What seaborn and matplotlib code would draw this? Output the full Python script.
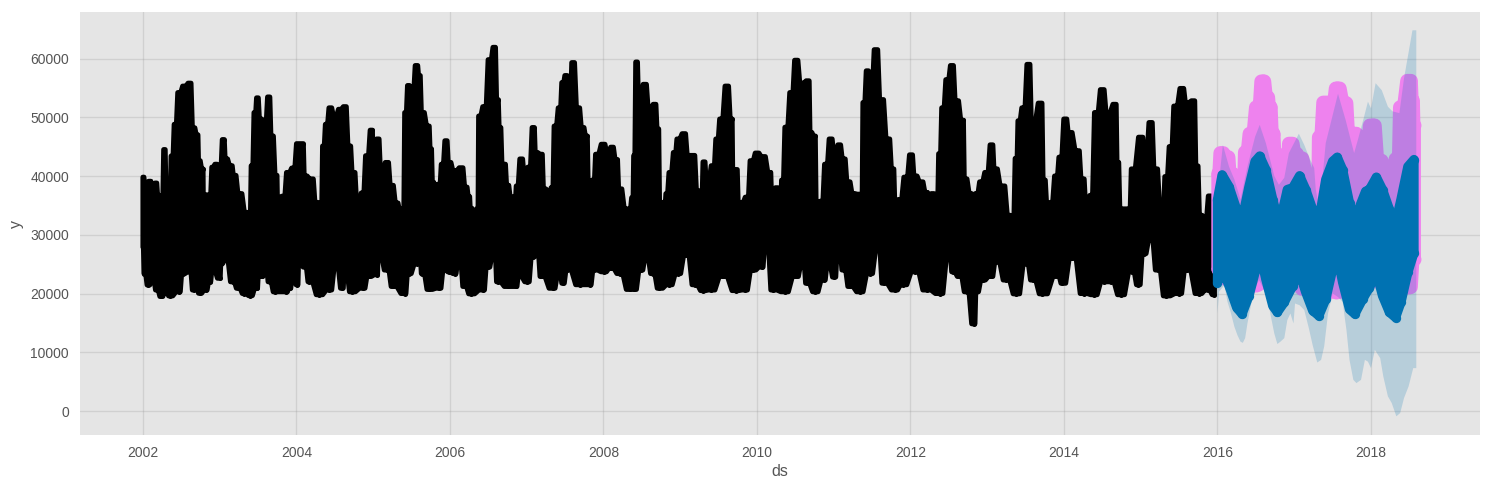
import numpy as np
import matplotlib
matplotlib.use("Agg")
import matplotlib.pyplot as plt
import seaborn as sns

hist_upper_t = [2002.00,2002.04,2002.09,2002.13,2002.17,2002.20,2002.25,2002.28,2002.31,2002.34,2002.38,2002.42,2002.47,2002.54,2002.61,2002.66,2002.71,2002.73,2002.78,2002.79,2002.82,2002.87,2002.91,2002.95,2003.00,2003.05,2003.08,2003.15,2003.19,2003.26,2003.35,2003.39,2003.42,2003.46,2003.49,2003.53,2003.59,2003.64,2003.68,2003.74,2003.76,2003.83,2003.89,2003.96,2004.02,2004.08,2004.11,2004.20,2004.26,2004.32,2004.35,2004.39,2004.44,2004.50,2004.57,2004.63,2004.69,2004.74,2004.81,2004.86,2004.92,2004.98,2005.01,2005.06,2005.11,2005.18,2005.24,2005.31,2005.35,2005.39,2005.42,2005.46,2005.50,2005.57,
2005.60,2005.64,2005.72,2005.75,2005.78,2005.81,2005.86,2005.90,2005.95,2005.99,2006.06,2006.15,2006.21,2006.25,2006.27,2006.32,2006.36,2006.38,2006.45,2006.52,2006.58,2006.62,2006.65,2006.69,2006.71,2006.75,2006.80,2006.85,2006.87,2006.93,2006.98,2007.03,2007.09,2007.12,2007.19,2007.23,2007.29,2007.33,2007.37,2007.43,2007.47,2007.51,2007.56,2007.60,2007.67,2007.73,2007.78,2007.81,2007.87,2007.91,2008.00,2008.06,2008.11,2008.17,2008.21,2008.30,2008.34,2008.38,2008.40,2008.43,2008.47,2008.54,2008.60,2008.67,2008.71,2008.74,2008.80,2008.82,2008.87,2008.93,2008.97,2009.05,2009.11,2009.17,2009.23,2009.27,2009.31,2009.35,2009.43,2009.48,2009.53,2009.61,2009.67,2009.69,2009.73,2009.77,2009.80,2009.87,2009.93,2010.00,2010.08,2010.17,2010.20,2010.26,2010.30,2010.33,2010.38,2010.45,2010.51,2010.58,2010.67,
2010.70,2010.75,2010.78,2010.84,2010.90,2010.96,2011.02,2011.07,2011.13,2011.19,2011.26,2011.32,2011.36,2011.39,2011.44,2011.48,2011.55,2011.62,2011.71,2011.77,2011.81,2011.86,2011.94,2012.01,2012.06,2012.14,2012.21,2012.23,2012.29,2012.34,2012.38,2012.42,2012.48,2012.54,2012.60,2012.68,2012.71,2012.79,2012.81,2012.86,2012.92,2012.99,2013.06,2013.10,2013.20,2013.29,2013.33,2013.38,2013.41,2013.47,2013.54,2013.59,2013.70,2013.74,2013.79,2013.83,2013.90,2013.95,2014.02,2014.07,2014.18,2014.24,2014.31,2014.35,2014.42,2014.50,2014.57,2014.67,2014.70,2014.74,2014.81,2014.85,2014.89,2015.01,2015.06,2015.13,2015.19,2015.28,2015.33,2015.39,2015.45,2015.54,2015.60,2015.69,2015.73,2015.78,2015.84,2015.90,2015.96]
hist_upper_y = [39800,37500,39100,37800,38800,36700,36300,44500,37000,34400,43400,48800,54200,55300,55800,48200,47000,42600,41200,35000,36800,36700,41500,42000,40700,46200,42900,41750,40100,37000,33800,32700,41750,50800,53300,49700,49000,53450,46800,40100,34400,36550,40600,41350,45500,45500,40000,39500,35500,34400,45100,48800,51600,50200,51350,51800,45100,40600,34400,37100,43450,47800,40000,46300,40800,42300,38400,35400,34400,34400,50800,55400,52800,58800,
57100,50800,48500,44600,38900,35500,38600,42000,46000,42300,40900,41400,38100,36500,34500,34000,34400,50200,51800,59800,61900,53000,48250,42000,42000,38400,36400,36500,38300,42900,40100,41500,48250,44000,43700,37800,37000,38000,48500,51600,55900,57100,52800,59300,51600,48250,46800,38400,39300,43700,45400,44000,44900,42800,37800,34400,34400,36300,43450,59400,52000,55600,51600,52200,48000,35500,35500,37000,40600,44000,46300,47200,43500,43500,37500,34800,42400,39000,41750,46300,49700,55300,49700,40600,41100,34400,35500,36400,42600,43900,43300,40600,36000,38000,33800,39300,48300,54200,59700,55800,56200,
47400,46800,35000,35700,42000,46300,43400,45300,42900,39000,37000,36900,34400,52500,57900,54200,61500,53000,46300,41200,34400,36000,39800,43600,40000,39000,37200,33800,37000,33800,43800,51600,56400,58800,52800,49500,39500,37000,32700,37000,39000,40600,45300,41200,38300,33300,31700,43000,49400,51600,59000,49000,52400,39300,35000,35500,40000,43200,49700,47400,44300,39500,33300,36700,50800,54700,50800,52200,42300,34400,34400,34400,41200,46600,43500,49100,41200,33300,39900,45000,51900,54900,52500,52800,41700,33300,33000,36600,36200]

hist_lower_t = [2002.00,2002.02,2002.07,2002.13,2002.18,2002.24,2002.30,2002.35,2002.47,2002.52,2002.61,2002.66,2002.69,2002.74,2002.82,2002.87,2002.91,2003.00,2003.02,2003.08,2003.17,2003.24,2003.32,2003.40,2003.48,2003.52,2003.55,2003.59,2003.65,2003.72,2003.87,2003.91,2003.96,2004.01,2004.04,2004.11,2004.17,2004.30,2004.43,2004.52,2004.60,2004.63,2004.72,2004.87,2004.94,2005.05,2005.07,2005.18,2005.26,2005.41,2005.46,2005.57,
2005.60,2005.64,2005.73,2005.86,2005.93,2005.99,2006.06,2006.12,2006.19,2006.27,2006.43,2006.49,2006.58,2006.62,2006.75,2006.86,2006.90,2007.01,2007.08,2007.14,2007.19,2007.34,2007.43,2007.47,2007.53,2007.69,2007.82,2007.88,2008.01,2008.10,2008.21,2008.34,2008.40,2008.49,2008.56,2008.64,2008.73,2008.86,2008.97,2009.08,2009.19,2009.30,2009.40,2009.56,2009.73,2009.84,2009.95,2010.06,2010.12,2010.21,2010.36,2010.51,2010.60,
2010.65,2010.76,2010.87,2010.93,2011.01,2011.06,2011.13,2011.21,2011.34,2011.47,2011.58,2011.65,2011.80,2011.90,2012.06,2012.21,2012.38,2012.51,2012.55,2012.64,2012.73,2012.83,2012.86,2012.94,2013.05,2013.12,2013.25,2013.38,2013.51,2013.59,2013.72,2013.92,2013.98,2014.11,2014.26,2014.39,2014.52,2014.61,2014.74,2014.89,2014.97,2015.04,2015.13,2015.22,2015.33,2015.50,2015.60,2015.76,2015.87,2015.96]
hist_lower_y = [27900,23400,21460,22300,20600,19500,20300,19600,20300,23400,23700,20600,23400,20050,20600,22000,24000,22600,25100,25700,22000,20900,20000,19650,20900,24500,22900,25100,22000,20300,20300,20900,24000,21500,27400,24500,22000,19800,20600,24500,20900,24000,20300,20900,22900,23200,26800,24000,21200,20000,23400,25100,
26800,23400,20700,20900,24000,23700,23400,25700,21200,19950,20600,24500,26800,22000,21200,21200,22900,22000,26250,26550,22900,20900,23400,21750,24000,21500,21500,24000,23700,24300,23400,20700,20700,24000,26000,23400,20900,21500,23400,26550,21500,20500,20600,22900,20500,20600,24000,24500,28500,20600,20300,22900,25100,
21750,20300,22300,24900,22800,27700,24000,21200,20300,23400,27400,21750,20600,21500,23700,20600,20000,26200,23700,22900,20300,14850,20300,22300,22900,25400,22300,19950,25100,22300,19950,22900,21750,26000,20000,19800,22000,22000,19800,23700,21500,26800,29100,24000,19600,20000,24000,20000,20600,19800]

# Test actuals (violet)
test_upper_t = [2016.01,2016.05,2016.13,2016.17,2016.25,2016.33,2016.37,2016.44,2016.53,2016.59,2016.65,2016.68,2016.72,2016.75,2016.78,2016.87,2016.96,2017.02,2017.06,2017.20,2017.26,2017.30,2017.33,2017.40,2017.50,2017.56,2017.66,2017.72,2017.79,2017.85,2017.91,2018.02,2018.11,2018.20,2018.26,2018.35,2018.39,2018.51,2018.54,2018.56]
test_upper_y = [40400,43900,43200,40400,35000,36400,44050,47200,51700,56100,53400,51700,47200,44000,38700,37000,45500,43800,43000,40100,36400,33000,46600,52500,52500,54900,52400,47200,47200,39800,42100,48600,42600,37600,39800,42900,51700,56200,52800,48600]
test_lower_t = [2016.01,2016.15,2016.37,2016.50,2016.61,2016.74,2016.98,2017.15,2017.37,2017.54,2017.72,2017.98,2018.11,2018.33,2018.50,2018.56]
test_lower_y = [24200,22500,20800,21500,22500,20800,22000,20800,20300,20300,20300,22000,22100,20300,21100,25800]

# Uncertainty band
band_upper_t = [2016.00,2016.07,2016.15,2016.22,2016.30,2016.39,2016.49,2016.55,2016.63,2016.74,2016.80,2016.87,2016.93,2017.06,2017.13,2017.20,2017.26,2017.28,2017.33,2017.41,2017.57,2017.67,2017.78,2017.83,2017.91,2017.96,2018.00,2018.06,2018.14,2018.22,2018.28,2018.37,2018.43,2018.54,2018.59]
band_upper_y = [36550,45300,41600,39400,36000,41600,46700,48700,45600,40000,38500,39700,43900,47200,45300,43000,41350,37700,34300,45600,54000,49500,43900,46200,50100,52650,51500,55800,54600,51800,51000,50700,56600,64800,64800]
band_lower_t = [2016.00,2016.02,2016.09,2016.13,2016.17,2016.22,2016.26,2016.30,2016.33,2016.36,2016.39,2016.44,2016.48,2016.54,2016.59,2016.65,2016.70,2016.74,2016.78,2016.82,2016.87,2016.91,2016.95,2016.99,2017.01,2017.07,2017.13,2017.19,2017.24,2017.30,2017.35,2017.39,2017.44,2017.50,2017.57,2017.63,2017.68,2017.72,2017.77,2017.81,2017.87,2017.92,2017.96,2018.00,2018.05,2018.12,2018.16,2018.22,2018.27,2018.33,2018.38,2018.43,2018.49,2018.55,2018.59]
band_lower_y = [16600,20300,21400,18600,16900,14350,12900,11800,11600,12400,14900,18300,20600,22300,21100,19150,15800,13200,11400,11800,12400,15500,16600,14900,18300,18000,17200,14100,11200,8250,8700,11000,16600,20000,19400,18600,13800,8700,5300,4750,5300,8700,8400,7300,10400,9000,5900,2500,1350,-900,-350,2200,4200,7300,7300]

# Forecast (blue)
fc_upper_t = [2016.00,2016.06,2016.15,2016.25,2016.32,2016.41,2016.49,2016.55,2016.63,2016.72,2016.78,2016.85,2016.91,2016.98,2017.07,2017.15,2017.24,2017.32,2017.41,2017.50,2017.56,2017.63,2017.72,2017.79,2017.87,2017.93,2017.98,2018.07,2018.15,2018.24,2018.32,2018.39,2018.48,2018.56]
fc_upper_y = [36000,40200,38200,34300,32600,38200,42500,43400,41100,36000,33050,34300,37700,38000,40050,37700,34300,32300,39400,42500,43200,41100,35400,32600,35400,37400,37700,39800,37700,34300,32000,36000,41600,42800]
fc_lower_t = [2016.00,2016.06,2016.15,2016.25,2016.32,2016.41,2016.50,2016.55,2016.63,2016.72,2016.78,2016.87,2016.98,2017.06,2017.15,2017.24,2017.32,2017.41,2017.50,2017.56,2017.63,2017.72,2017.79,2017.89,2017.98,2018.07,2018.15,2018.24,2018.32,2018.39,2018.48,2018.56]
fc_lower_y = [21850,24100,21300,17600,16500,19600,24100,27060,22400,17900,16800,18500,21300,23800,20200,17100,16200,19000,24100,26500,21900,17300,16500,19000,21000,23600,19600,16800,15900,18500,23600,26950]

year_ticks = [2002, 2004, 2006, 2008, 2010, 2012, 2014, 2016, 2018]
y_ticks = [0, 10000, 20000, 30000, 40000, 50000, 60000]

BLACK, VIOLET, BLUE = "#000000", "#EE82EE", "#0072B2"

sns.set_theme(style="darkgrid", rc={"axes.facecolor": "#E5E5E5"})
plt.rcParams["font.family"] = ["Liberation Sans", "DejaVu Sans"]

fig, ax = plt.subplots(figsize=(14.89, 4.9), dpi=100)
fig.subplots_adjust(left=80/1489, right=1480/1489, top=1-12/490, bottom=1-435/490)


def walled(t, y, wall=0.35):
    """Outline through the read values with steep walls: each value holds near its own date."""
    t = np.asarray(t, float)
    y = np.asarray(y, float)
    gap = np.diff(t)
    hold = (1 - wall) / 2
    xs = np.empty(3 * len(t) - 2)
    ys = np.empty(3 * len(t) - 2)
    xs[0::3], ys[0::3] = t, y
    xs[1::3], ys[1::3] = t[:-1] + hold * gap, y[:-1]
    xs[2::3], ys[2::3] = t[1:] - hold * gap, y[1:]
    return xs, ys


def blob(ut, uy, lt, ly, color, size, z, steps=True):
    if steps:
        ux, uv = walled(ut, uy)
        lx, lv = walled(lt, ly)
    else:
        ux, uv, lx, lv = np.array(ut), np.array(uy), np.array(lt), np.array(ly)
    ax.fill(np.r_[ux, lx[::-1]], np.r_[uv, lv[::-1]], facecolor=color, edgecolor=color,
            lw=np.sqrt(size), joinstyle="round", zorder=z)
    sns.scatterplot(x=np.r_[ut, lt], y=np.r_[uy, ly], color=color, s=size,
                    linewidth=0, ax=ax, zorder=z)


blob(hist_upper_t, hist_upper_y, hist_lower_t, hist_lower_y, BLACK, 13, 3)
blob(test_upper_t, test_upper_y, test_lower_t, test_lower_y, VIOLET, 100, 4)
ax.fill(np.r_[band_upper_t, band_lower_t[::-1]], np.r_[band_upper_y, band_lower_y[::-1]],
        color=BLUE, alpha=0.2, lw=0, zorder=5)
blob(fc_upper_t, fc_upper_y, fc_lower_t, fc_lower_y, BLUE, 45, 6, steps=False)

ax.set_xlim(2001.18, 2019.42)
ax.set_ylim(-4085, 67915)
ax.set_xticks(year_ticks)
ax.set_xticklabels([str(t) for t in year_ticks])
ax.set_yticks(y_ticks)
ax.grid(True, which="major", color="gray", ls="-", lw=1, alpha=0.2)
ax.set_axisbelow(True)
for s in ax.spines.values():
    s.set_visible(False)
ax.tick_params(length=0, labelsize=10, labelcolor="#555555", pad=8)
ax.set_xlabel("ds", fontsize=11.5, color="#555555", labelpad=3)
ax.set_ylabel("y", fontsize=11.5, color="#555555", labelpad=4)

fig.savefig("out.png", dpi=100, facecolor="white")
